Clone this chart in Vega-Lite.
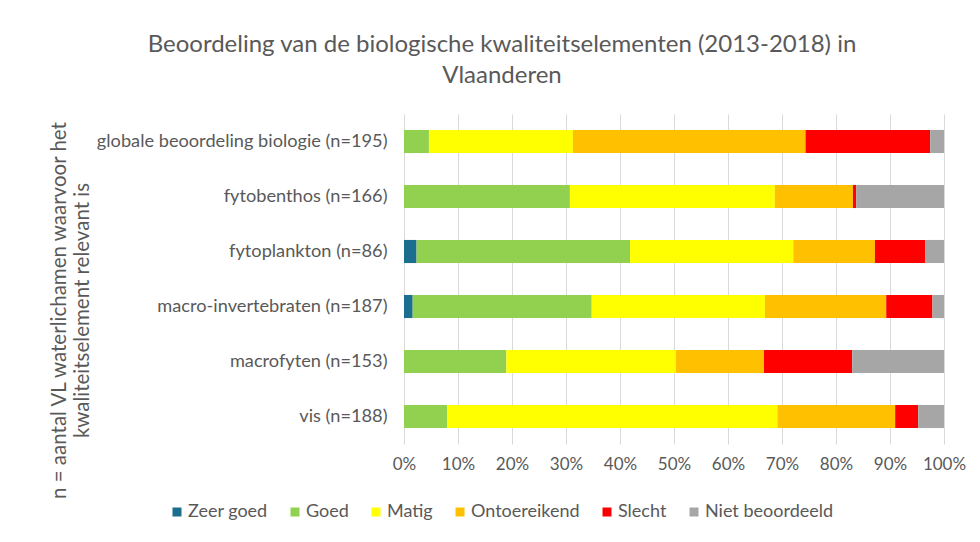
{
  "$schema": "https://vega.github.io/schema/vega-lite/v6.json",
  "width": 540,
  "height": 330,
  "autosize": {"type": "none"},
  "padding": {"left": 404, "top": 114, "right": 36, "bottom": 98},
  "background": "white",
  "title": {
    "text": ["Beoordeling van de biologische kwaliteitselementen (2013-2018) in", "Vlaanderen"],
    "font": "Lato",
    "fontSize": 24,
    "fontWeight": "normal",
    "color": "#595959",
    "anchor": "middle",
    "dx": -172,
    "offset": 26,
    "lineHeight": 31
  },
  "data": {
    "values": [
      {"element": "globale beoordeling biologie (n=195)", "klasse": "Goed", "k": 2, "n": 9},
      {"element": "globale beoordeling biologie (n=195)", "klasse": "Matig", "k": 3, "n": 52},
      {"element": "globale beoordeling biologie (n=195)", "klasse": "Ontoereikend", "k": 4, "n": 84},
      {"element": "globale beoordeling biologie (n=195)", "klasse": "Slecht", "k": 5, "n": 45},
      {"element": "globale beoordeling biologie (n=195)", "klasse": "Niet beoordeeld", "k": 6, "n": 5},
      {"element": "fytobenthos (n=166)", "klasse": "Goed", "k": 2, "n": 51},
      {"element": "fytobenthos (n=166)", "klasse": "Matig", "k": 3, "n": 63},
      {"element": "fytobenthos (n=166)", "klasse": "Ontoereikend", "k": 4, "n": 24},
      {"element": "fytobenthos (n=166)", "klasse": "Slecht", "k": 5, "n": 1},
      {"element": "fytobenthos (n=166)", "klasse": "Niet beoordeeld", "k": 6, "n": 27},
      {"element": "fytoplankton (n=86)", "klasse": "Zeer goed", "k": 1, "n": 2},
      {"element": "fytoplankton (n=86)", "klasse": "Goed", "k": 2, "n": 34},
      {"element": "fytoplankton (n=86)", "klasse": "Matig", "k": 3, "n": 26},
      {"element": "fytoplankton (n=86)", "klasse": "Ontoereikend", "k": 4, "n": 13},
      {"element": "fytoplankton (n=86)", "klasse": "Slecht", "k": 5, "n": 8},
      {"element": "fytoplankton (n=86)", "klasse": "Niet beoordeeld", "k": 6, "n": 3},
      {"element": "macro-invertebraten (n=187)", "klasse": "Zeer goed", "k": 1, "n": 3},
      {"element": "macro-invertebraten (n=187)", "klasse": "Goed", "k": 2, "n": 62},
      {"element": "macro-invertebraten (n=187)", "klasse": "Matig", "k": 3, "n": 60},
      {"element": "macro-invertebraten (n=187)", "klasse": "Ontoereikend", "k": 4, "n": 42},
      {"element": "macro-invertebraten (n=187)", "klasse": "Slecht", "k": 5, "n": 16},
      {"element": "macro-invertebraten (n=187)", "klasse": "Niet beoordeeld", "k": 6, "n": 4},
      {"element": "macrofyten (n=153)", "klasse": "Goed", "k": 2, "n": 29},
      {"element": "macrofyten (n=153)", "klasse": "Matig", "k": 3, "n": 48},
      {"element": "macrofyten (n=153)", "klasse": "Ontoereikend", "k": 4, "n": 25},
      {"element": "macrofyten (n=153)", "klasse": "Slecht", "k": 5, "n": 25},
      {"element": "macrofyten (n=153)", "klasse": "Niet beoordeeld", "k": 6, "n": 26},
      {"element": "vis (n=188)", "klasse": "Goed", "k": 2, "n": 15},
      {"element": "vis (n=188)", "klasse": "Matig", "k": 3, "n": 115},
      {"element": "vis (n=188)", "klasse": "Ontoereikend", "k": 4, "n": 41},
      {"element": "vis (n=188)", "klasse": "Slecht", "k": 5, "n": 8},
      {"element": "vis (n=188)", "klasse": "Niet beoordeeld", "k": 6, "n": 9}
    ]
  },
  "mark": {"type": "bar"},
  "encoding": {
    "y": {
      "field": "element",
      "type": "nominal",
      "sort": null,
      "scale": {"paddingInner": 0.58, "paddingOuter": 0.29},
      "axis": {
        "title": ["n = aantal VL waterlichamen waarvoor het", "kwaliteitselement relevant is"],
        "titleFont": "Lato",
        "titleFontSize": 20.5,
        "titleFontWeight": "normal",
        "titleColor": "#595959",
        "titleLineHeight": 23,
        "titleX": -335,
        "titleY": 196,
        "labelFont": "Lato",
        "labelFontSize": 18.2,
        "labelColor": "#595959",
        "labelPadding": 17,
        "labelLimit": 400,
        "ticks": false,
        "domain": false,
        "grid": false
      }
    },
    "x": {
      "field": "n",
      "type": "quantitative",
      "stack": "normalize",
      "scale": {"domain": [0, 1], "nice": false},
      "axis": {
        "title": null,
        "format": ".0%",
        "values": [0, 0.1, 0.2, 0.3, 0.4, 0.5, 0.6, 0.7, 0.8, 0.9, 1],
        "labelFont": "Lato",
        "labelFontSize": 17,
        "labelColor": "#595959",
        "labelPadding": 12,
        "labelFlush": false,
        "ticks": false,
        "domain": false,
        "grid": true,
        "gridColor": "#D9D9D9",
        "gridWidth": 1
      }
    },
    "color": {
      "field": "klasse",
      "type": "nominal",
      "scale": {
        "domain": ["Zeer goed", "Goed", "Matig", "Ontoereikend", "Slecht", "Niet beoordeeld"],
        "range": ["#1B6E8E", "#92D050", "#FFFF00", "#FFC000", "#FF0000", "#A6A6A6"]
      },
      "legend": {
        "title": null,
        "orient": "none",
        "direction": "horizontal",
        "legendX": -236,
        "legendY": 389,
        "symbolType": "square",
        "symbolSize": 81,
        "symbolStrokeWidth": 0,
        "labelFont": "Lato",
        "labelFontSize": 18,
        "labelColor": "#595959",
        "labelOffset": 2,
        "columnPadding": 18
      }
    },
    "order": {"field": "k", "type": "quantitative"}
  },
  "config": {
    "view": {"stroke": null}
  }
}
